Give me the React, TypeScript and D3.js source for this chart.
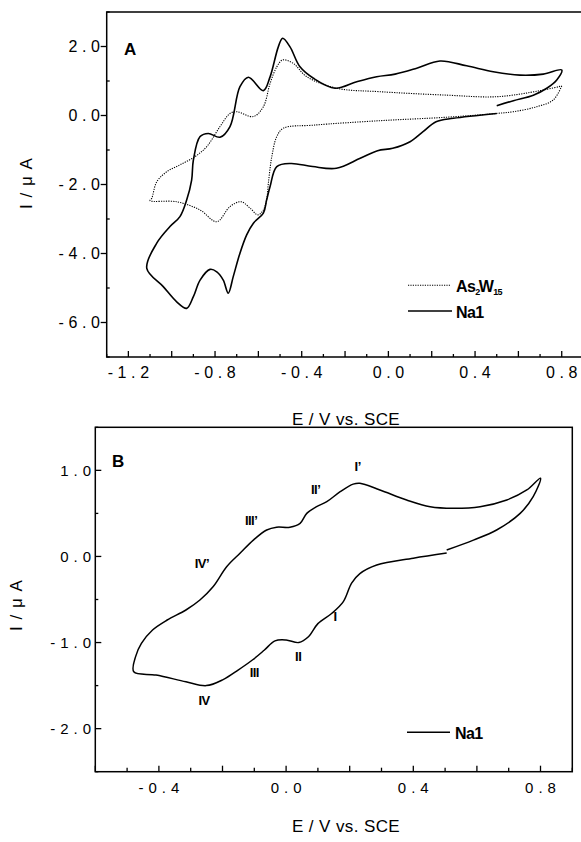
import * as d3 from "d3";

// cyclic voltammograms, [E (V vs SCE), I (uA)] in sweep order
const na1A: [number, number][] = [
  [0.5, 0.06], [0.3, -0.08], [0.22, -0.18], [0.16, -0.47], [0.1, -0.76], [0.02, -0.95],
  [-0.05, -1.02], [-0.13, -1.24], [-0.24, -1.53], [-0.35, -1.48], [-0.45, -1.39], [-0.515, -1.48],
  [-0.546, -2.06], [-0.562, -2.45], [-0.577, -2.83], [-0.623, -3.12], [-0.654, -3.46], [-0.685, -3.99],
  [-0.716, -4.67], [-0.739, -5.15], [-0.762, -4.77], [-0.792, -4.53], [-0.823, -4.46], [-0.869, -4.77],
  [-0.9, -5.25], [-0.931, -5.59], [-0.977, -5.4], [-1.039, -4.96], [-1.115, -4.43],
  [-1.069, -3.7], [-1.008, -3.22], [-0.962, -2.93], [-0.931, -2.45], [-0.908, -1.87], [-0.9, -1.29],
  [-0.869, -0.61], [-0.831, -0.52], [-0.777, -0.63], [-0.731, -0.32], [-0.685, 0.835], [-0.646, 1.11],
  [-0.577, 0.72], [-0.546, 1.12], [-0.508, 1.99], [-0.488, 2.24], [-0.454, 1.99], [-0.408, 1.41],
  [-0.346, 1.08], [-0.246, 0.79], [-0.146, 0.98], [-0.054, 1.125], [0.031, 1.2], [0.131, 1.37],
  [0.238, 1.58], [0.361, 1.44], [0.484, 1.27], [0.607, 1.17], [0.715, 1.2], [0.8, 1.32],
  [0.777, 1.03], [0.731, 0.79], [0.669, 0.59], [0.577, 0.43], [0.5, 0.28],
];

const as2w15A: [number, number][] = [
  [0.8, 0.855], [0.761, 0.45], [0.685, 0.255], [0.577, 0.11], [0.5, 0.06], [0.269, -0.05],
  [-0.039, -0.15], [-0.346, -0.28], [-0.485, -0.37], [-0.515, -0.61], [-0.538, -1.19], [-0.554, -1.97],
  [-0.562, -2.45], [-0.577, -2.74], [-0.602, -2.88], [-0.639, -2.68], [-0.68, -2.5], [-0.731, -2.64],
  [-0.792, -3.08], [-0.869, -2.74], [-0.977, -2.5], [-1.1, -2.47],
  [-1.092, -2.4], [-1.069, -1.92], [-1.023, -1.63], [-0.962, -1.43], [-0.892, -1.19], [-0.838, -0.9],
  [-0.777, -0.32], [-0.731, 0.06], [-0.7, 0.11], [-0.623, -0.03], [-0.577, 0.255], [-0.546, 0.93],
  [-0.515, 1.41], [-0.488, 1.61], [-0.439, 1.51], [-0.377, 1.125], [-0.238, 0.79], [-0.039, 0.69],
  [0.269, 0.59], [0.5, 0.545], [0.7, 0.72], [0.8, 0.855],
];

const na1B: [number, number][] = [
  [0.505, 0.04], [0.4, -0.02], [0.285, -0.1], [0.232, -0.2], [0.206, -0.31], [0.18, -0.525],
  [0.144, -0.66], [0.1, -0.78], [0.071, -0.93], [0.04, -1.0], [0.0, -0.97], [-0.035, -0.98],
  [-0.069, -1.09], [-0.105, -1.2], [-0.151, -1.32], [-0.198, -1.43], [-0.251, -1.5], [-0.315, -1.455],
  [-0.409, -1.377], [-0.479, -1.34],
  [-0.473, -1.16], [-0.455, -1.01], [-0.42, -0.854], [-0.374, -0.738], [-0.315, -0.622], [-0.271, -0.506],
  [-0.229, -0.35], [-0.187, -0.12], [-0.145, 0.037], [-0.103, 0.19], [-0.061, 0.307], [-0.03, 0.34],
  [0.012, 0.34], [0.044, 0.385], [0.065, 0.5], [0.096, 0.578], [0.128, 0.636], [0.17, 0.752],
  [0.211, 0.84], [0.232, 0.85], [0.295, 0.772], [0.379, 0.656], [0.453, 0.578], [0.526, 0.56],
  [0.61, 0.578], [0.694, 0.656], [0.757, 0.772], [0.8, 0.91],
  [0.777, 0.694], [0.736, 0.5], [0.662, 0.307], [0.589, 0.19], [0.505, 0.075],
];

const aXLabels = [-1.2, -0.8, -0.4, 0, 0.4, 0.8];
const aYLabels = [-6, -4, -2, 0, 2];
const bXLabels = [-0.4, 0, 0.4, 0.8];
const bYLabels = [-2, -1, 0, 1];

const peakLabels = [
  { text: "I\u2019", E: 0.225, I: 0.99 },
  { text: "II\u2019", E: 0.093, I: 0.73 },
  { text: "III\u2019", E: -0.11, I: 0.37 },
  { text: "IV\u2019", E: -0.265, I: -0.13 },
  { text: "I", E: 0.154, I: -0.75 },
  { text: "II", E: 0.038, I: -1.22 },
  { text: "III", E: -0.1, I: -1.4 },
  { text: "IV", E: -0.258, I: -1.73 },
];

const fmt = d3.formatLocale({ decimal: ".", thousands: ",", grouping: [3], currency: ["", ""], minus: "-" }).format(".1f");

const FONT = "'Liberation Sans', Arial, Helvetica, sans-serif";

export default function App() {
  // panel A
  const xA = d3.scaleLinear().domain([-1.3, 0.9]).range([106.7, 583.4]);
  const yA = d3.scaleLinear().domain([-7, 3]).range([357, 12]);
  // panel B
  const xB = d3.scaleLinear().domain([-0.6, 0.9]).range([95.3, 572.3]);
  const yB = d3.scaleLinear().domain([-2.5, 1.5]).range([771.7, 427.3]);

  const lineA = d3.line<[number, number]>().x(d => xA(d[0])).y(d => yA(d[1])).curve(d3.curveCatmullRom.alpha(0.5));
  const lineB = d3.line<[number, number]>().x(d => xB(d[0])).y(d => yB(d[1])).curve(d3.curveCatmullRom.alpha(0.5));

  const aMajX = d3.range(-1.2, 0.81, 0.2);
  const aMinX = d3.range(-1.3, 0.91, 0.2);
  const aMinY = d3.range(-7, 3.1, 2);
  const bMajX = d3.range(-0.6, 0.91, 0.2);
  const bMinX = d3.range(-0.5, 0.91, 0.2);
  const bMinY = d3.range(-2.5, 1.6, 1);

  const lsA = 4.6;
  const lsB = 5;

  return (
    <svg width={581} height={842} style={{ position: "absolute", left: 0, top: 0, background: "#fff" }} fontFamily={FONT}>
      {/* ---------- Panel A ---------- */}
      <rect x={xA(-1.3)} y={yA(3)} width={xA(0.9) - xA(-1.3)} height={yA(-7) - yA(3)} fill="none" stroke="#000" strokeWidth={1.5} />
      {aMajX.map(v => <line key={"amx" + v} x1={xA(v)} x2={xA(v)} y1={yA(-7)} y2={yA(-7) - 6} stroke="#000" strokeWidth={1.3} />)}
      {aMinX.map(v => <line key={"anx" + v} x1={xA(v)} x2={xA(v)} y1={yA(-7)} y2={yA(-7) - 3} stroke="#000" strokeWidth={1.3} />)}
      {aYLabels.map(v => <line key={"amy" + v} x1={xA(-1.3) - 6} x2={xA(-1.3)} y1={yA(v)} y2={yA(v)} stroke="#000" strokeWidth={1.3} />)}
      {aMinY.map(v => <line key={"any" + v} x1={xA(-1.3)} x2={xA(-1.3) + 3} y1={yA(v)} y2={yA(v)} stroke="#000" strokeWidth={1.3} />)}
      {aXLabels.map(v => (
        <text key={"axl" + v} x={xA(v) + lsA / 2} y={378} fontSize={16} letterSpacing={lsA} textAnchor="middle">{fmt(v)}</text>
      ))}
      {aYLabels.map(v => (
        <text key={"ayl" + v} x={100 + lsA} y={yA(v) + 5.5} fontSize={16} letterSpacing={lsA} textAnchor="end">{fmt(v)}</text>
      ))}
      <text x={346} y={425} fontSize={17} textAnchor="middle" letterSpacing={0.4}>E / V vs. SCE</text>
      <text transform={`translate(32,${183}) rotate(-90)`} fontSize={17} textAnchor="middle" letterSpacing={1}>I / μ A</text>
      <text x={124} y={55} fontSize={17} fontWeight="bold">A</text>

      <path d={lineA(as2w15A) ?? ""} fill="none" stroke="#000" strokeWidth={1.1} strokeDasharray="1.2,1.2" />
      <path d={lineA(na1A) ?? ""} fill="none" stroke="#000" strokeWidth={1.6} />

      {/* legend A */}
      <line x1={408} x2={451} y1={285.3} y2={285.3} stroke="#000" strokeWidth={1.1} strokeDasharray="1.2,1.2" />
      <text x={456} y={291.5} fontSize={16} fontWeight="bold" letterSpacing={-0.6}>
        As<tspan fontSize={9} dy={3}>2</tspan><tspan dy={-3} dx={-1}>W</tspan><tspan fontSize={9} dy={3}>15</tspan>
      </text>
      <line x1={408} x2={452} y1={311} y2={311} stroke="#000" strokeWidth={1.6} />
      <text x={456} y={317.5} fontSize={16} fontWeight="bold" letterSpacing={-0.6}>Na1</text>

      {/* ---------- Panel B ---------- */}
      <rect x={xB(-0.6)} y={yB(1.5)} width={xB(0.9) - xB(-0.6)} height={yB(-2.5) - yB(1.5)} fill="none" stroke="#000" strokeWidth={1.5} />
      {bMajX.map(v => <line key={"bmx" + v} x1={xB(v)} x2={xB(v)} y1={yB(-2.5)} y2={yB(-2.5) - 6} stroke="#000" strokeWidth={1.3} />)}
      {bMinX.map(v => <line key={"bnx" + v} x1={xB(v)} x2={xB(v)} y1={yB(-2.5)} y2={yB(-2.5) - 4} stroke="#000" strokeWidth={1.3} />)}
      {bYLabels.map(v => <line key={"bmy" + v} x1={xB(-0.6)} x2={xB(-0.6) + 6} y1={yB(v)} y2={yB(v)} stroke="#000" strokeWidth={1.3} />)}
      {bMinY.map(v => <line key={"bny" + v} x1={xB(-0.6)} x2={xB(-0.6) + 3} y1={yB(v)} y2={yB(v)} stroke="#000" strokeWidth={1.3} />)}
      {bXLabels.map(v => (
        <text key={"bxl" + v} x={xB(v) + lsB / 2} y={793} fontSize={15} letterSpacing={lsB} textAnchor="middle">{fmt(v)}</text>
      ))}
      {bYLabels.map(v => (
        <text key={"byl" + v} x={91 + lsB} y={yB(v) + 5.3} fontSize={15} letterSpacing={lsB} textAnchor="end">{fmt(v)}</text>
      ))}
      <text x={346} y={832} fontSize={17} textAnchor="middle" letterSpacing={0.4}>E / V vs. SCE</text>
      <text transform={`translate(22,${605}) rotate(-90)`} fontSize={17} textAnchor="middle" letterSpacing={1}>I / μ A</text>
      <text x={112} y={467} fontSize={17} fontWeight="bold">B</text>

      <path d={lineB(na1B) ?? ""} fill="none" stroke="#000" strokeWidth={1.5} />

      {peakLabels.map(p => (
        <text key={p.text} x={xB(p.E)} y={yB(p.I)} fontSize={13} fontWeight="bold" textAnchor="middle" letterSpacing={-0.5}>{p.text}</text>
      ))}

      {/* legend B */}
      <line x1={407} x2={450} y1={732.3} y2={732.3} stroke="#000" strokeWidth={1.5} />
      <text x={455} y={738.5} fontSize={16} fontWeight="bold" letterSpacing={-0.6}>Na1</text>
    </svg>
  );
}
